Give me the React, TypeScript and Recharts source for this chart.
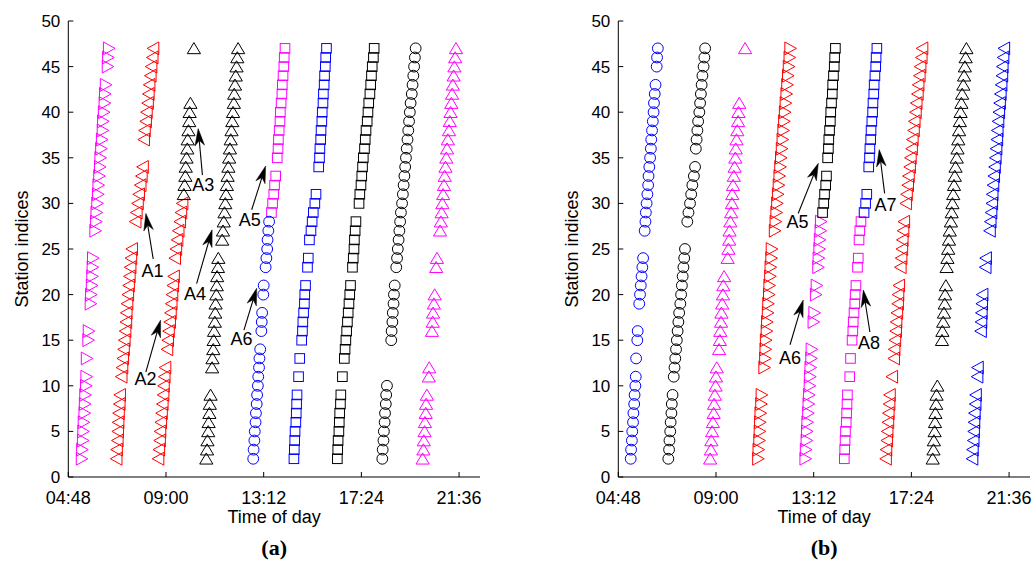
import React from 'react';
import { ScatterChart, Scatter, XAxis, YAxis, ReferenceLine } from 'recharts';

type Seg = [number, number[]]; // [first station index, times in minutes for consecutive stations]

const xTicks = [288, 540, 792, 1044, 1296];
const xDomain: [number, number] = [288, 1350];
const yTicks = [0, 5, 10, 15, 20, 25, 30, 35, 40, 45, 50];
const yDomain: [number, number] = [0, 50];
const xTitle = 'Time of day';
const yTitle = 'Station indices';
const panelTags = ['(a)', '(b)'];

// ---------- panel (a) ----------
const aMagentaRight: Seg[] = [[2, [323, 324, 326, 327, 328, 330, 331, 332, 334, 335]], [13, [336]], [15, [340, 341]], [19, [346, 347, 349, 350, 351, 352]], [27, [358, 360, 361, 363, 365, 366, 368, 370, 371, 373, 375, 377, 378, 380, 382, 383, 385]], [45, [390, 391, 393]]];
const aRedLeft1: Seg[] = [[2, [412, 413, 415, 416, 417, 418, 420, 421]], [11, [425, 427, 429, 431, 433, 435, 437, 438, 440, 442, 444, 446, 448, 450, 452]], [28, [461, 464, 467, 470, 474, 477, 480]], [37, [483, 485, 488, 490, 493, 495, 497, 500, 502, 505, 507]]];
const aRedLeft2: Seg[] = [[2, [520, 522, 524, 525, 527, 529, 531, 533, 534, 536, 538]], [14, [543, 545, 547, 550, 552, 554, 556, 558, 560]], [24, [563, 566, 569, 572, 576, 579, 582]]];
const aBlackUp1: Seg[] = [[31, [586, 588, 590, 591, 593, 595, 596, 598, 600, 601, 603]], [47, [612]]];
const aBlackUp2: Seg[] = [[2, [644, 646, 647, 649, 650, 652, 653, 655]], [12, [659, 660, 662, 663, 664, 666, 667, 668, 670, 671, 672, 674, 675]], [26, [685, 687, 689, 691, 693, 695, 697, 699, 701, 703, 705, 707, 709, 711, 713, 715, 716, 718, 720, 722, 724, 726]]];
const aMagentaSquare: Seg[] = [[29, [812, 815, 818, 820, 823]], [35, [827, 829, 830, 832, 834, 835, 837, 839, 840, 842, 844, 845, 847]]];
const aBlueCircle: Seg[] = [[2, [765, 766, 768, 769, 771, 772, 774, 775, 777, 778, 780, 781, 783]], [16, [786, 787, 788]], [20, [791, 792]], [23, [797, 799, 801, 802, 804, 806]]];
const aBlueSquare: Seg[] = [[2, [870, 871, 872, 873, 875, 876, 877, 878]], [11, [882]], [13, [885]], [15, [890, 892, 893, 895, 897, 898, 900]], [23, [905, 907]], [26, [910, 914, 917, 920, 924, 927]], [34, [934, 936, 937, 939, 940, 942, 943, 945, 946, 948, 949, 951, 952, 954]]];
const aBlackSquare: Seg[] = [[2, [982, 983, 984, 986, 987, 988, 990, 991]], [11, [995]], [13, [1000, 1002, 1004, 1006, 1008, 1010, 1012, 1014, 1016]], [23, [1021, 1023, 1025, 1026, 1028, 1030]], [30, [1038, 1040, 1043, 1045, 1047, 1049, 1052, 1054, 1056, 1059, 1061, 1063, 1066, 1068, 1070, 1072, 1075, 1077]]];
const aBlackCircle: Seg[] = [[2, [1098, 1099, 1101, 1102, 1104, 1105, 1107, 1108, 1110]], [15, [1121, 1122, 1124, 1125, 1127, 1128, 1130]], [23, [1134, 1136, 1138, 1140, 1142, 1144, 1146, 1149, 1151, 1153, 1155, 1157, 1159, 1161, 1163, 1165, 1167, 1169, 1171, 1174, 1176, 1178, 1180, 1182, 1184]]];
const aMagentaUp: Seg[] = [[2, [1202, 1204, 1205, 1207, 1208, 1210, 1211, 1213]], [11, [1218, 1219]], [16, [1226, 1228, 1229, 1231, 1233]], [23, [1237, 1239]], [27, [1247, 1249, 1251, 1253, 1255, 1257, 1259, 1261, 1263, 1265, 1267, 1270, 1272, 1274, 1276, 1278, 1280, 1282, 1284, 1286, 1288]]];

// ---------- panel (b) ----------
const bBlueCircle: Seg[] = [[2, [320, 321, 323, 324, 326, 327, 329, 330, 332, 333]], [13, [334]], [15, [337, 338]], [19, [342, 344, 346, 348, 350, 352]], [27, [356, 358, 359, 361, 363, 365, 366, 368, 370, 372, 373, 375, 377, 379, 380, 382, 384]], [45, [387, 388, 390]]];
const bBlackCircle: Seg[] = [[2, [417, 419, 420, 422, 423, 425, 426, 428]], [11, [431, 433, 435, 437, 439, 441, 443, 445, 448, 450, 452, 454, 456, 458, 460]], [28, [466, 469, 473, 476, 479, 483, 486]], [36, [488, 490, 492, 494, 497, 499, 501, 503, 505, 508, 510, 512]]];
const bMagentaUp: Seg[] = [[2, [525, 527, 528, 530, 532, 534, 535, 537, 539, 540, 542]], [14, [548, 550, 551, 553, 554, 556, 558, 559, 561]], [24, [570, 572, 574, 575, 577, 579, 581, 582, 584, 586, 588, 590, 591, 593, 595, 597, 598, 600]], [47, [615]]];
const bRedRight: Seg[] = [[2, [649, 650, 652, 653, 654, 655, 657, 658]], [12, [665, 667, 668, 669, 671, 672, 674, 675, 677, 678, 680, 681, 683, 684]], [27, [692, 694, 696, 698, 700, 702, 704, 706, 708, 710, 712, 714, 716, 718, 720, 722, 724, 726, 728, 730, 732]]];
const bMagentaRight: Seg[] = [[2, [771, 772, 774, 775, 776, 778, 779, 780, 782, 783, 784, 786, 787]], [17, [792, 794]], [20, [798, 800]], [23, [804, 805, 807, 808, 810, 811]]];
const bBlackSquare: Seg[] = [[29, [815, 818, 820, 823, 825]], [35, [828, 830, 831, 833, 835, 836, 838, 840, 841, 843, 845, 846, 848]]];
const bMagentaSquare: Seg[] = [[2, [871, 872, 873, 874, 876, 877, 878, 879]], [11, [885]], [13, [887]], [15, [891, 893, 894, 896, 898, 899, 901]], [23, [905, 907]], [26, [909, 911, 914]]];
const bBlueSquare: Seg[] = [[29, [922, 926, 929]], [34, [934, 936, 937, 939, 940, 942, 944, 945, 947, 948, 950, 952, 953, 955]]];
const bRedLeft: Seg[] = [[2, [978, 979, 981, 982, 984, 985, 987, 988]], [11, [994]], [13, [999, 1000, 1002, 1004, 1005, 1007, 1009, 1010, 1012]], [23, [1016, 1018, 1020, 1021, 1023, 1025]], [30, [1030, 1032, 1035, 1037, 1040, 1042, 1045, 1047, 1050, 1052, 1055, 1057, 1060, 1062, 1065, 1067, 1070, 1072]]];
const bBlackUp: Seg[] = [[2, [1099, 1101, 1102, 1104, 1105, 1106, 1108, 1109, 1111]], [15, [1123, 1124, 1126, 1128, 1130, 1131, 1133]], [23, [1135, 1137, 1139, 1141, 1143, 1146, 1148, 1150, 1152, 1154, 1156, 1158, 1161, 1163, 1165, 1167, 1169, 1171, 1173, 1175, 1178, 1180, 1182, 1184, 1186]]];
const bBlueLeft: Seg[] = [[2, [1201, 1202, 1204, 1205, 1206, 1207, 1209, 1210]], [11, [1214, 1215]], [16, [1223, 1224, 1225, 1226, 1227]], [23, [1235, 1236]], [27, [1246, 1248, 1250, 1252, 1253, 1255, 1257, 1259, 1261, 1263, 1265, 1266, 1268, 1270, 1272, 1274, 1276, 1278, 1279, 1281, 1283]]];

// ---------- annotations: [label, tipTime, tipStation, tailTime, tailStation, textTime, textStation] ----------
type Note = [string, number, number, number, number, number, number];
const notesA: Note[] = [
  ['A1', 488, 28.9, 507, 23.9, 505, 22.6],
  ['A2', 526, 17.2, 488, 11.5, 487, 10.8],
  ['A3', 623, 38.2, 634, 33.1, 636, 32.0],
  ['A4', 659, 27.1, 619, 21.2, 615, 20.1],
  ['A5', 797, 34.1, 761, 29.3, 756, 28.2],
  ['A6', 774, 20.7, 741, 16.1, 735, 15.1],
];
const notesB: Note[] = [
  ['A5', 804, 34.4, 752, 28.9, 750, 28.0],
  ['A6', 765, 19.4, 731, 14.5, 731, 13.1],
  ['A7', 961, 35.9, 975, 31.1, 977, 29.8],
  ['A8', 920, 20.5, 937, 15.9, 935, 14.7],
];

const MAGENTA = '#ff00ff';
const RED = '#ff0000';
const BLUE = '#0000ff';
const BLACK = '#000000';

type Marker = 'circle' | 'square' | 'up' | 'left' | 'right';
type Spec = { name: string; segs: Seg[]; color: string; marker: Marker };

const seriesA: Spec[] = [
  { name: 'a1', segs: aMagentaRight, color: MAGENTA, marker: 'right' },
  { name: 'a2', segs: aRedLeft1, color: RED, marker: 'left' },
  { name: 'a3', segs: aRedLeft2, color: RED, marker: 'left' },
  { name: 'a4', segs: aBlackUp1, color: BLACK, marker: 'up' },
  { name: 'a5', segs: aBlackUp2, color: BLACK, marker: 'up' },
  { name: 'a6', segs: aMagentaSquare, color: MAGENTA, marker: 'square' },
  { name: 'a7', segs: aBlueCircle, color: BLUE, marker: 'circle' },
  { name: 'a8', segs: aBlueSquare, color: BLUE, marker: 'square' },
  { name: 'a9', segs: aBlackSquare, color: BLACK, marker: 'square' },
  { name: 'a10', segs: aBlackCircle, color: BLACK, marker: 'circle' },
  { name: 'a11', segs: aMagentaUp, color: MAGENTA, marker: 'up' },
];
const seriesB: Spec[] = [
  { name: 'b1', segs: bBlueCircle, color: BLUE, marker: 'circle' },
  { name: 'b2', segs: bBlackCircle, color: BLACK, marker: 'circle' },
  { name: 'b3', segs: bMagentaUp, color: MAGENTA, marker: 'up' },
  { name: 'b4', segs: bRedRight, color: RED, marker: 'right' },
  { name: 'b5', segs: bMagentaRight, color: MAGENTA, marker: 'right' },
  { name: 'b6', segs: bBlackSquare, color: BLACK, marker: 'square' },
  { name: 'b7', segs: bMagentaSquare, color: MAGENTA, marker: 'square' },
  { name: 'b8', segs: bBlueSquare, color: BLUE, marker: 'square' },
  { name: 'b9', segs: bRedLeft, color: RED, marker: 'left' },
  { name: 'b10', segs: bBlackUp, color: BLACK, marker: 'up' },
  { name: 'b11', segs: bBlueLeft, color: BLUE, marker: 'left' },
];

const toPoints = (segs: Seg[]) =>
  segs.flatMap(([s0, ts]) => ts.map((t, i) => ({ x: t, y: s0 + i })));

const fmtTime = (m: number) => {
  const h = Math.floor(m / 60);
  const mm = Math.round(m - h * 60);
  return `${String(h).padStart(2, '0')}:${String(mm).padStart(2, '0')}`;
};

const FONT = '"Liberation Sans", Arial, Helvetica, sans-serif';

const makeShape = (marker: Marker, color: string) => (p: any) => {
  const { cx, cy } = p;
  if (cx == null || cy == null || isNaN(cx) || isNaN(cy)) return <g />;
  const common = { fill: 'none', stroke: color, strokeWidth: 1 };
  switch (marker) {
    case 'circle':
      return <circle cx={cx} cy={cy} r={5.4} {...common} />;
    case 'square':
      return <rect x={cx - 4.8} y={cy - 4.8} width={9.6} height={9.6} {...common} />;
    case 'up':
      return <polygon points={`${cx},${cy - 5.8} ${cx - 6.6},${cy + 5.3} ${cx + 6.6},${cy + 5.3}`} {...common} />;
    case 'left':
      return <polygon points={`${cx - 6},${cy} ${cx + 5.6},${cy - 6.4} ${cx + 5.6},${cy + 6.4}`} {...common} />;
    default:
      return <polygon points={`${cx + 6},${cy} ${cx - 5.6},${cy - 6.4} ${cx - 5.6},${cy + 6.4}`} {...common} />;
  }
};

const arrowShape = (p: any) => {
  const { x1, y1, x2, y2 } = p;
  if ([x1, y1, x2, y2].some((v) => v == null || isNaN(v))) return <g />;
  const dx = x2 - x1;
  const dy = y2 - y1;
  const len = Math.hypot(dx, dy) || 1;
  const ux = dx / len;
  const uy = dy / len;
  const L = 17;
  const W = 4.8;
  const N = 12;
  const bx = x2 - ux * L;
  const by = y2 - uy * L;
  const nx = -uy;
  const ny = ux;
  const kx = x2 - ux * N;
  const ky = y2 - uy * N;
  return (
    <g>
      <line x1={x1} y1={y1} x2={kx} y2={ky} stroke="#000" strokeWidth={1.1} />
      <polygon
        points={`${x2},${y2} ${bx + nx * W},${by + ny * W} ${kx},${ky} ${bx - nx * W},${by - ny * W}`}
        fill="#000"
        stroke="#000"
        strokeWidth={0.5}
      />
    </g>
  );
};

const textShape = (p: any) => {
  const { cx, cy, payload } = p;
  if (cx == null || cy == null) return <g />;
  return (
    <text x={cx} y={cy} textAnchor="middle" dominantBaseline="central" fontSize={18} fill="#000" fontFamily={FONT}>
      {payload.label}
    </text>
  );
};

function Panel({ series, notes, left, width, marginRight, tag }: { series: Spec[]; notes: Note[]; left: number; width: number; marginRight: number; tag: string }) {
  const labelPts = notes.map((n) => ({ x: n[5], y: n[6], label: n[0] }));
  const plotLeft = 68.3;
  const plotRight = width - marginRight;
  const center = (plotLeft + plotRight) / 2;
  return (
    <div style={{ position: 'absolute', left, top: 0, width, height: 566, fontFamily: FONT }}>
      <ScatterChart width={width} height={566} margin={{ top: 21, right: marginRight, bottom: 59, left: 8.3 }}>
        <XAxis
          xAxisId={0}
          type="number"
          dataKey="x"
          domain={xDomain}
          ticks={xTicks}
          allowDataOverflow
          tickFormatter={fmtTime}
          height={30}
          tickSize={-5}
          tickMargin={19}
          stroke="#000"
          tick={{ fill: '#000', fontSize: 18, fontFamily: FONT }}
          label={{ value: xTitle, position: 'bottom', offset: 3, fill: '#000', fontSize: 18, fontFamily: FONT }}
        />
        <XAxis
          xAxisId="top"
          orientation="top"
          type="number"
          domain={xDomain}
          ticks={xTicks}
          allowDataOverflow
          height={0}
          tickSize={-5}
          tick={false}
          stroke="#000"
        />
        <YAxis
          yAxisId={0}
          type="number"
          dataKey="y"
          domain={yDomain}
          ticks={yTicks}
          allowDataOverflow
          width={60}
          tickSize={-5}
          tickMargin={13}
          stroke="#000"
          tick={{ fill: '#000', fontSize: 17, fontFamily: FONT }}
          label={{ value: yTitle, angle: -90, position: 'insideLeft', offset: 13, fill: '#000', fontSize: 18, fontFamily: FONT, style: { textAnchor: 'middle' } }}
        />
        <YAxis
          yAxisId="right"
          orientation="right"
          type="number"
          domain={yDomain}
          ticks={yTicks}
          allowDataOverflow
          width={0}
          tickSize={-5}
          tick={false}
          stroke="#000"
        />
        {series.map((s) => (
          <Scatter
            key={s.name}
            name={s.name}
            data={toPoints(s.segs)}
            shape={makeShape(s.marker, s.color)}
            isAnimationActive={false}
          />
        ))}
        {notes.map((n) => (
          <ReferenceLine
            key={`arrow-${n[0]}`}
            segment={[{ x: n[3], y: n[4] }, { x: n[1], y: n[2] }]}
            shape={arrowShape}
            stroke="#000"
          />
        ))}
        <Scatter name="labels" data={labelPts} shape={textShape} isAnimationActive={false} />
      </ScatterChart>
      <div
        style={{
          position: 'absolute',
          left: center - 40,
          width: 80,
          top: 536,
          textAlign: 'center',
          fontFamily: '"Liberation Serif", "Times New Roman", serif',
          fontWeight: 'bold',
          fontSize: 22,
          lineHeight: '24px',
          color: '#000',
        }}
      >
        {tag}
      </div>
    </div>
  );
}

export default function App() {
  return (
    <div style={{ position: 'absolute', left: 0, top: 0, width: 1034, height: 566, background: '#fff' }}>
      <Panel series={seriesA} notes={notesA} left={0} width={500} marginRight={20} tag={panelTags[0]} />
      <Panel series={seriesB} notes={notesB} left={550} width={484} marginRight={4} tag={panelTags[1]} />
    </div>
  );
}
